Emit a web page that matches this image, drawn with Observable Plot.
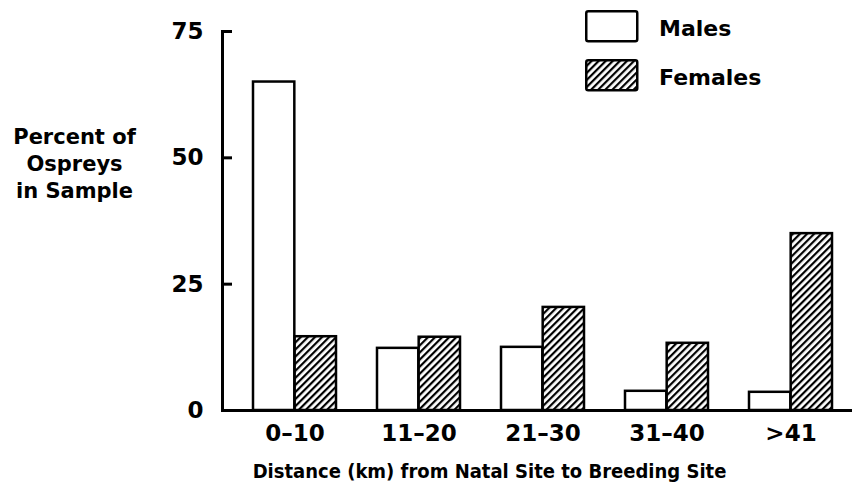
<!DOCTYPE html>
<html>
<head>
<meta charset="utf-8">
<script src="https://cdn.jsdelivr.net/npm/d3@7"></script>
<script src="https://cdn.jsdelivr.net/npm/@observablehq/plot@0.6"></script>
<style>
  html, body { margin: 0; padding: 0; background: #fff; }
  #wrap { position: relative; width: 855px; height: 488px; }
  #legend { position: absolute; left: 585px; top: 10px; font-family: "DejaVu Sans", sans-serif; font-weight: bold; font-size: 22px; color: #000; }
  .item { display: flex; align-items: center; height: 32px; margin-bottom: 17px; }
  .item span { position: relative; top: 2px; }
  .item svg { margin-right: 20px; }
</style>
</head>
<body>
<div id="wrap">
  <div id="chart"></div>
  <div id="legend"></div>
</div>
<script>
// ---- data ----
const categories = ["0\u201310", "11\u201320", "21\u201330", "31\u201340", ">41"];
const males   = [65, 12.3, 12.5, 3.8, 3.6];
const females = [14.6, 14.5, 20.4, 13.3, 35];
const yTicks  = [0, 25, 50, 75];
const seriesNames = ["Males", "Females"];
const xTitle = "Distance (km) from Natal Site to Breeding Site";
const yTitle = "Percent of\nOspreys\nin Sample";

const rows = categories.map((c, i) => ({cat: c, male: males[i], female: females[i]}));

const W = 855, H = 488;
const mL = 222, mR = 3, mT = 31, mB = 78;
const xOpts = {paddingInner: 0.33, paddingOuter: 0.197, align: 0.61};
const band = d3.scaleBand(categories, [mL, W - mR])
  .paddingInner(xOpts.paddingInner).paddingOuter(xOpts.paddingOuter).align(xOpts.align);
const half = band.bandwidth() / 2;

const font = "DejaVu Sans";
const chart = Plot.plot({
  width: W, height: H,
  marginLeft: mL, marginRight: mR, marginTop: mT, marginBottom: mB,
  style: {fontFamily: font, fontWeight: "bold", color: "#000", background: "#fff", overflow: "visible"},
  x: {type: "band", domain: categories, ...xOpts},
  y: {domain: [0, 75]},
  marks: [
    Plot.barY(rows, {x: "cat", y: "male", fill: "#fff", stroke: "#000", strokeWidth: 2.5, insetLeft: 0, insetRight: half}),
    Plot.barY(rows, {x: "cat", y: "female", fill: "url(#hatch)", stroke: "#000", strokeWidth: 2.5, insetLeft: half, insetRight: 0}),
    Plot.ruleY([0], {stroke: "#000", strokeWidth: 3}),
    Plot.frame({anchor: "left", stroke: "#000", strokeWidth: 3}),
    Plot.axisY({ticks: yTicks, tickSize: -10, strokeWidth: 3, text: null, label: null}),
    Plot.axisY({ticks: yTicks, tickSize: 0, tickPadding: 19, fontSize: 23, tickFormat: d3.format("d"), label: null}),
    Plot.axisX({tickSize: 0, tickPadding: 14, fontSize: 23, label: null}),
    Plot.text([xTitle], {frameAnchor: "bottom", dx: -48, dy: 67, text: d => d, textAnchor: "middle", lineAnchor: "bottom", fontSize: 20, fontFamily: "DejaVu Sans Condensed, DejaVu Sans", fontStretch: "condensed", fontWeight: "bold"}),
    Plot.text([yTitle], {frameAnchor: "top-left", dx: -148, dy: 94, text: d => d, textAnchor: "middle", lineAnchor: "top", lineHeight: 1.27, fontSize: 21, fontWeight: "bold"})
  ]
});
document.getElementById("chart").appendChild(chart);

// hatch pattern definition
const svg = d3.select(chart.tagName.toLowerCase() === "svg" ? chart : chart.querySelector("svg"));
const defs = svg.insert("defs", ":first-child");
const pat = defs.append("pattern").attr("id", "hatch").attr("patternUnits", "userSpaceOnUse")
  .attr("width", 5).attr("height", 5).attr("patternTransform", "rotate(45)");
pat.append("rect").attr("width", 5).attr("height", 5).attr("fill", "#fff");
pat.append("rect").attr("x", 0).attr("y", 0).attr("width", 2.2).attr("height", 5).attr("fill", "#000");

// legend
const legend = d3.select("#legend");
seriesNames.forEach((name, i) => {
  const item = legend.append("div").attr("class", "item");
  const s = item.append("svg").attr("width", 54).attr("height", 33);
  s.append("rect").attr("x", 1.25).attr("y", 1.25).attr("width", 51).attr("height", 30).attr("rx", 2)
    .attr("fill", i === 0 ? "#fff" : "url(#hatch)").attr("stroke", "#000").attr("stroke-width", 2.5);
  item.append("span").text(name);
});
</script>
</body>
</html>
